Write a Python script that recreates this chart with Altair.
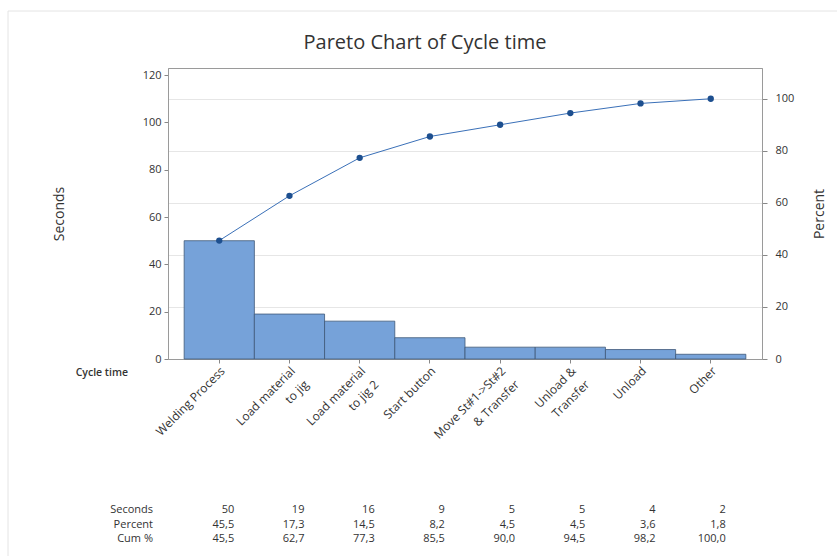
import altair as alt
import pandas as pd

# ---------------- data ----------------
categories = [
    "Welding Process",
    "Load material\nto jig",
    "Load material\nto jig 2",
    "Start button",
    "Move St#1->St#2\n& Transfer",
    "Unload &\nTransfer",
    "Unload",
    "Other",
]
seconds = [50, 19, 16, 9, 5, 5, 4, 2]
percent = [45.5, 17.3, 14.5, 8.2, 4.5, 4.5, 3.6, 1.8]
cum_percent = [45.5, 62.7, 77.3, 85.5, 90.0, 94.5, 98.2, 100.0]
row_names = ["Seconds", "Percent", "Cum %"]
left_ticks = [0, 20, 40, 60, 80, 100, 120]
right_ticks = [0, 20, 40, 60, 80, 100]

FONT = "Open Sans"
TXT = "#333333"
TOTAL = sum(seconds)
Y_MAX = 123
PCT_MAX = Y_MAX * 100 / TOTAL


def fmt1(v):
    return f"{v:.1f}".replace(".", ",")


df = pd.DataFrame({"cat": categories, "seconds": seconds, "cum": cum_percent})

table_rows = []
for c, s, p, cp in zip(categories, seconds, percent, cum_percent):
    table_rows.append({"cat": c, "row": row_names[0], "txt": str(s)})
    table_rows.append({"cat": c, "row": row_names[1], "txt": fmt1(p)})
    table_rows.append({"cat": c, "row": row_names[2], "txt": fmt1(cp)})
table_df = pd.DataFrame(table_rows)
rowlab_df = pd.DataFrame({"row": row_names})

x_enc = alt.X(
    "cat:N",
    sort=categories,
    scale=alt.Scale(paddingInner=0, paddingOuter=0.23),
    axis=alt.Axis(
        title=None,
        labelAngle=315,
        labelAlign="right",
        labelBaseline="top",
        labelExpr="split(datum.label, '\\n')",
        labelFont=FONT,
        labelFontSize=12,
        labelColor=TXT,
        labelPadding=2,
        labelLineHeight=19,
        tickSize=4,
        tickColor="#888888",
        domainColor="#9a9a9a",
        grid=False,
    ),
)

bars = (
    alt.Chart(df)
    .mark_bar(color="#76A2D9", stroke="#3f5877", strokeWidth=0.8)
    .encode(
        x=x_enc,
        y=alt.Y(
            "seconds:Q",
            scale=alt.Scale(domain=[0, Y_MAX], nice=False),
            axis=alt.Axis(
                orient="left",
                values=left_ticks,
                title="Seconds",
                titleFont=FONT,
                titleFontSize=14,
                titleFontWeight="normal",
                titleColor=TXT,
                titlePadding=76,
                labelFont=FONT,
                labelFontSize=11,
                labelColor=TXT,
                labelPadding=3,
                tickSize=4,
                tickColor="#888888",
                domainColor="#9a9a9a",
                grid=False,
            ),
        ),
    )
)

y_pct = alt.Y(
    "cum:Q",
    scale=alt.Scale(domain=[0, PCT_MAX], nice=False),
    axis=alt.Axis(
        orient="right",
        values=right_ticks,
        title="Percent",
        titleAngle=270,
        titleFont=FONT,
        titleFontSize=14,
        titleFontWeight="normal",
        titleColor=TXT,
        titlePadding=33,
        labelFont=FONT,
        labelFontSize=11,
        labelColor=TXT,
        labelPadding=8,
        tickSize=5,
        tickColor="#888888",
        domainColor="#9a9a9a",
        grid=True,
        gridColor="#e6e6e6",
    ),
)

line = alt.Chart(df).mark_line(color="#3a70b8", strokeWidth=1).encode(x=x_enc, y=y_pct)
pts = alt.Chart(df).mark_circle(color="#1d4f8f", opacity=1, size=40).encode(x=x_enc, y=y_pct)
pareto = alt.layer(line, pts)

y_row = alt.Y(
    "row:N",
    sort=row_names,
    scale=alt.Scale(type="point", range=[442, 471], padding=0),
    axis=None,
)

table_vals = (
    alt.Chart(table_df)
    .mark_text(font=FONT, fontSize=11, color=TXT, align="right", dx=15)
    .encode(x=x_enc, y=y_row, text="txt:N")
)
table_labels = (
    alt.Chart(rowlab_df)
    .mark_text(font=FONT, fontSize=11, color=TXT, align="right")
    .encode(x=alt.value(-15), y=y_row, text="row:N")
)
table = alt.layer(table_vals, table_labels)

cycle_lbl = (
    alt.Chart(pd.DataFrame({"t": ["Cycle time"]}))
    .mark_text(font=FONT, fontSize=10.5, color=TXT, align="right", fontWeight=600)
    .encode(x=alt.value(-40), y=alt.value(305), text="t:N")
)

frame = (
    alt.Chart(pd.DataFrame({"f": [0]}))
    .mark_rect(fill=None, fillOpacity=0, stroke="#e4e4e4", strokeWidth=1)
    .encode(x=alt.value(-160), x2=alt.value(700), y=alt.value(-57), y2=alt.value(520))
)

chart = (
    alt.layer(frame, bars, pareto, table, cycle_lbl)
    .resolve_scale(y="independent")
    .properties(
        width=594,
        height=291,
        padding={"left": 168, "top": 68, "right": 75, "bottom": 197},
        autosize=alt.AutoSizeParams(type="none"),
        title=alt.TitleParams(
            "Pareto Chart of Cycle time",
            font=FONT,
            fontSize=20,
            fontWeight="normal",
            color=TXT,
            anchor="middle",
            dx=-40,
            offset=-42,
        ),
        background="white",
    )
    .configure_view(stroke="#9a9a9a", strokeWidth=1)
)

chart.save("out.html", embed_options={"renderer": "svg", "actions": False})
